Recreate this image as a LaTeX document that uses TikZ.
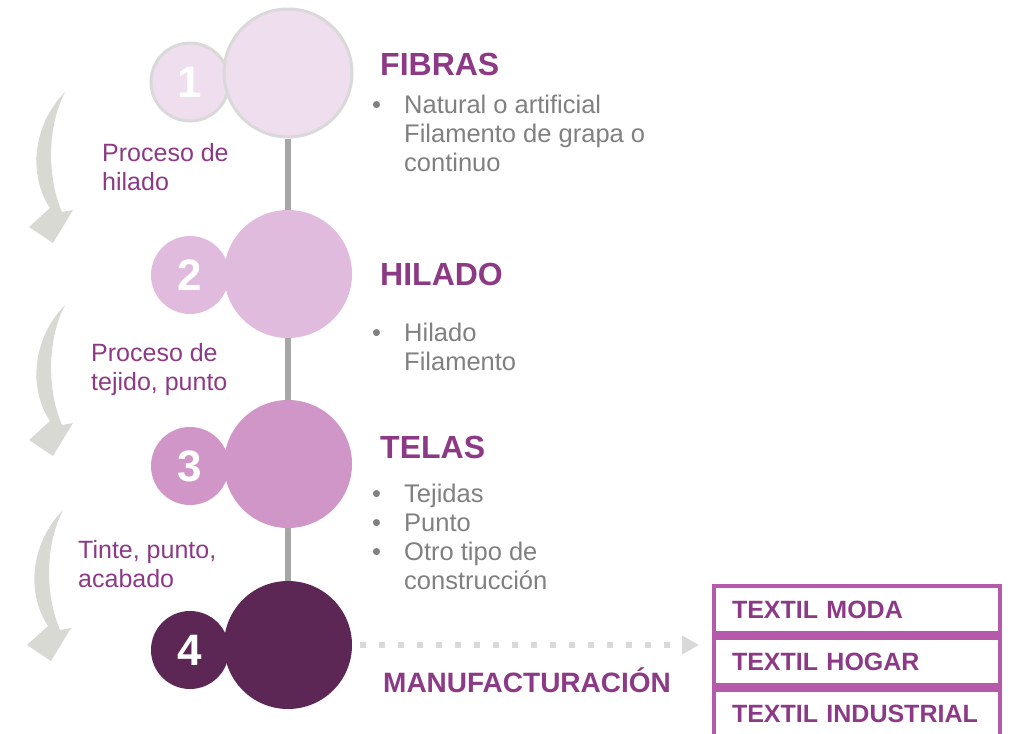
\documentclass[tikz,border=0pt]{standalone}
\usepackage{fontspec}
\setmainfont{Liberation Sans}
\usetikzlibrary{positioning, arrows.meta}

\definecolor{morado}{RGB}{140,58,134}
\definecolor{moradoCaja}{RGB}{182,89,171}
\definecolor{grisTexto}{RGB}{128,128,128}
\definecolor{grisBorde}{RGB}{217,217,217}
\definecolor{grisEje}{RGB}{166,166,166}
\definecolor{grisFlecha}{RGB}{217,217,212}
\definecolor{fibra}{RGB}{239,222,238}
\definecolor{hilo}{RGB}{224,187,222}
\definecolor{tela}{RGB}{209,150,200}
\definecolor{manu}{RGB}{92,39,84}

\newcommand{\bul}{\makebox[32pt][l]{\textbullet}}
\newcommand{\nobul}{\hspace*{32pt}}

\begin{document}
\begin{tikzpicture}[x=1pt, y=-1pt,
    circulo/.style={circle, inner sep=0pt, minimum size=128pt},
    numero/.style={circle, inner sep=0pt, minimum size=78pt, text=white,
      font=\bfseries\fontsize{44}{44}\selectfont},
    titulo/.style={anchor=base west, inner sep=0pt, text=morado,
      font=\bfseries\fontsize{32}{32}\selectfont},
    lista/.style={anchor=base west, inner sep=0pt, align=left, text=grisTexto,
      font=\fontsize{25.5}{29}\selectfont},
    proceso/.style={anchor=base west, inner sep=0pt, align=left, text=morado,
      font=\fontsize{25}{29}\selectfont},
    caja/.style={draw=moradoCaja, line width=4.5pt, text width=250pt,
      inner xsep=18pt, minimum height=47.5pt, align=left, text=morado,
      font=\bfseries\fontsize{25}{25}\selectfont},
    eje/.style={draw=grisEje, line width=6pt},
    punteada/.style={draw=grisBorde, line width=6pt, dash pattern=on 6pt off 13pt,
      -{Triangle[length=17pt, width=18pt, fill=grisBorde]}},
    flechacurva/.pic={
      \fill[grisFlecha] (0,0) .. controls (-34,35) and (-36,85) .. (-15,116)
        -- (-36,135) -- (-12,151) -- (8,118) -- (-3,120)
        .. controls (-18,85) and (-18,35) .. (0,0);
    }]

  % Marco
  \useasboundingbox (0,0) rectangle (1010,734);
  \clip (0,0) rectangle (1010,734);

  % Flechas curvas de la izquierda
  \pic at (65,92) {flechacurva};
  \pic at (65,305) {flechacurva};
  \pic at (63,510) {flechacurva};

  % Circulos con numero (primero el chico, luego el grande)
  \node[numero, fill=fibra, draw=grisBorde, line width=3pt] (n1) at (190,82) {1};
  \node[circulo, fill=fibra, draw=grisBorde, line width=3pt] (c1) at (288,73) {};

  \node[numero, fill=hilo] (n2) at (190,275) {2};
  \node[circulo, fill=hilo] (c2) at (288,274) {};

  \node[numero, fill=tela] (n3) at (190,466) {3};
  \node[circulo, fill=tela] (c3) at (288,464) {};

  \node[numero, fill=manu] (n4) at (190,650) {4};
  \node[circulo, fill=manu] (c4) at (288,645) {};

  % Eje vertical entre circulos
  \draw[eje] (c1) -- (c2);
  \draw[eje] (c2) -- (c3);
  \draw[eje] (c3) -- (c4);

  % Etapas (la base es la ultima linea)
  \node[titulo] (t1) at (380,75) {FIBRAS};
  \node[lista] (l1) at (372,171)
    {\bul Natural o artificial\\\nobul Filamento de grapa o\\\nobul continuo};

  \node[titulo] (t2) at (380,285) {HILADO};
  \node[lista] (l2) at (372,370) {\bul Hilado\\\nobul Filamento};

  \node[titulo] (t3) at (380,458) {TELAS};
  \node[lista] (l3) at (372,589)
    {\bul Tejidas\\\bul Punto\\\bul Otro tipo de\\\nobul construcción};

  \node[titulo, font=\bfseries\fontsize{28}{28}\selectfont] (t4) at (383,692)
    {MANUFACTURACIÓN};

  % Procesos
  \node[proceso] (p1) at (102,190) {Proceso de\\hilado};
  \node[proceso] (p2) at (91,390) {Proceso de\\tejido, punto};
  \node[proceso] (p3) at (78,587) {Tinte, punto,\\acabado};

  % Destinos
  \node[caja] (m1) at (857,609.5) {TEXTIL MODA};
  \node[caja, below=0pt of m1] (m2) {TEXTIL HOGAR};
  \node[caja, below=0pt of m2] (m3) {TEXTIL INDUSTRIAL};

  \coordinate (fin) at (699,645);
  \draw[punteada] ([xshift=8pt]c4.east) -- (fin);

\end{tikzpicture}
\end{document}
